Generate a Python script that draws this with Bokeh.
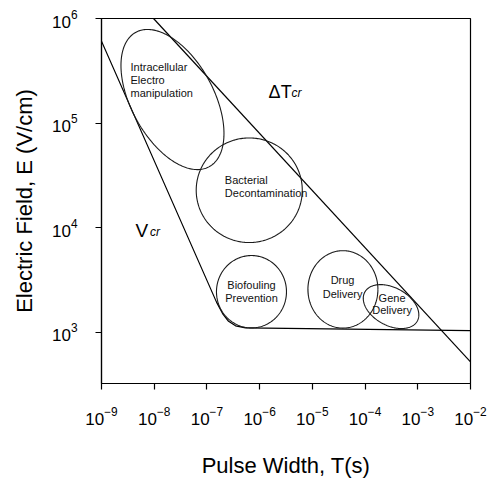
import numpy as np
from bokeh.plotting import figure
from bokeh.models import FixedTicker, Range1d
from bokeh.core.properties import value
from bokeh.embed import file_html
from bokeh.resources import INLINE

FONT = "Liberation Sans"

# ---- tick values ----
x_ticks = [1e-9, 1e-8, 1e-7, 1e-6, 1e-5, 1e-4, 1e-3, 1e-2]
y_ticks = [1e3, 1e4, 1e5, 1e6]

# ---- critical voltage boundary (V_cr) ----
vcr_T = [1e-9, 1.52e-7, 1.98e-7, 2.57e-7, 3.49e-7, 5.40e-7, 1e-2]
vcr_E = [6.07e5, 1941, 1510, 1271, 1151, 1102, 1038]

# ---- critical temperature rise boundary (dT_cr) ----
dt_T = [9.7e-9, 1e-2]
dt_E = [1e6, 521]

# ---- application regions (ellipses in log-log space) ----
reg_names = ["Intracellular", "Bacterial", "Biofouling", "Drug", "Gene"]
reg_T = [2.22e-8, 6.35e-7, 7.0e-7, 3.8e-5, 3.11e-4]       # centre pulse width (s)
reg_E = [1.68e5, 2.28e4, 2.44e3, 2.57e3, 1.76e3]          # centre field (V/cm)
reg_wdec = [0.977, 1.006, 0.664, 0.664, 0.527]            # half width, decades of T
reg_hdec = [0.67, 0.50, 0.346, 0.37, 0.21]                # half height, decades of E
reg_phase = [119, 90, 90, 90, 112]                        # tilt phase (deg)

# ---- region labels ----
lab_text = ["Intracellular", "Electro", "manipulation",
            "Bacterial", "Decontamination",
            "Biofouling", "Prevention",
            "Drug", "Delivery",
            "Gene", "Delivery"]
lab_T = [3.55e-9, 3.55e-9, 3.55e-9,
         2.19e-7, 2.19e-7,
         7.0e-7, 7.0e-7,
         3.74e-5, 3.74e-5,
         3.25e-4, 3.25e-4]
lab_E = [3.47e5, 2.60e5, 1.95e5,
         2.86e4, 2.14e4,
         2.82e3, 2.11e3,
         3.14e3, 2.32e3,
         2.14e3, 1.64e3]
lab_align = ["left", "left", "left", "left", "left",
             "center", "center", "center", "center", "center", "center"]

p = figure(width=500, height=480,
           x_axis_type="log", y_axis_type="log",
           x_range=Range1d(1e-9, 1e-2), y_range=Range1d(10 ** 2.51, 1e6),
           output_backend="svg", toolbar_location=None,
           min_border_left=101, min_border_right=30,
           min_border_top=18, min_border_bottom=93)
p.grid.visible = False
p.background_fill_color = "white"
p.border_fill_color = "white"
p.outline_line_color = "black"
p.outline_line_width = 1.2
p.outline_line_alpha = 1.0

for ax in (p.xaxis[0], p.yaxis[0]):
    ax.axis_line_width = 1.2
    ax.axis_line_color = "black"
    ax.major_tick_line_color = "black"
    ax.major_tick_line_width = 1.2
    ax.major_tick_in = 0
    ax.major_tick_out = 6
    ax.minor_tick_line_color = None
    ax.major_label_text_font = FONT
    ax.major_label_text_font_size = "17px"
    ax.major_label_text_color = "black"
    ax.axis_label_text_font = FONT
    ax.axis_label_text_font_size = "22px"
    ax.axis_label_text_font_style = "normal"
    ax.axis_label_text_color = "black"

p.xaxis.ticker = FixedTicker(ticks=x_ticks)
p.yaxis.ticker = FixedTicker(ticks=y_ticks)
p.xaxis.axis_label = "Pulse Width, T(s)"
p.yaxis.axis_label = "Electric Field, E (V/cm)"
p.xaxis.major_label_standoff = 17
p.yaxis.major_label_standoff = 18
p.xaxis.axis_label_standoff = 25
p.yaxis.axis_label_standoff = 12

# boundaries
p.line(vcr_T, vcr_E, line_color="black", line_width=1.2)
p.line(dt_T, dt_E, line_color="black", line_width=1.2)

# ellipses
t = np.linspace(0, 2 * np.pi, 241)
xs, ys = [], []
for cT, cE, w, h, ph in zip(reg_T, reg_E, reg_wdec, reg_hdec, reg_phase):
    lx = np.log10(cT) + w * np.cos(t)
    ly = np.log10(cE) + h * np.cos(t - np.radians(ph))
    xs.append(list(10 ** lx))
    ys.append(list(10 ** ly))
p.multi_line(xs, ys, line_color="#1a1a1a", line_width=1.1)

# region labels
for txt, tx, ty, al in zip(lab_text, lab_T, lab_E, lab_align):
    p.text([tx], [ty], text=[txt], text_font=value(FONT), text_font_size="11px",
           text_align=al, text_baseline="middle", text_color="#111111")

# boundary labels
p.text([1.48e-6], [2.0e5], text=["\u0394T"], text_font=value(FONT),
       text_font_size="18px", text_align="left", text_baseline="alphabetic",
       text_color="black")
p.text([4.03e-6], [1.92e5], text=["cr"], text_font=value(FONT),
       text_font_size="12px", text_font_style="italic", text_align="left",
       text_baseline="alphabetic", text_color="black")
p.text([4.41e-9], [9.3e3], text=["V"], text_font=value(FONT),
       text_font_size="19px", text_align="left", text_baseline="alphabetic",
       text_color="black")
p.text([8.3e-9], [9.08e3], text=["cr"], text_font=value(FONT),
       text_font_size="12px", text_font_style="italic", text_align="left",
       text_baseline="alphabetic", text_color="black")

open("out.html", "w").write(file_html(p, INLINE))
